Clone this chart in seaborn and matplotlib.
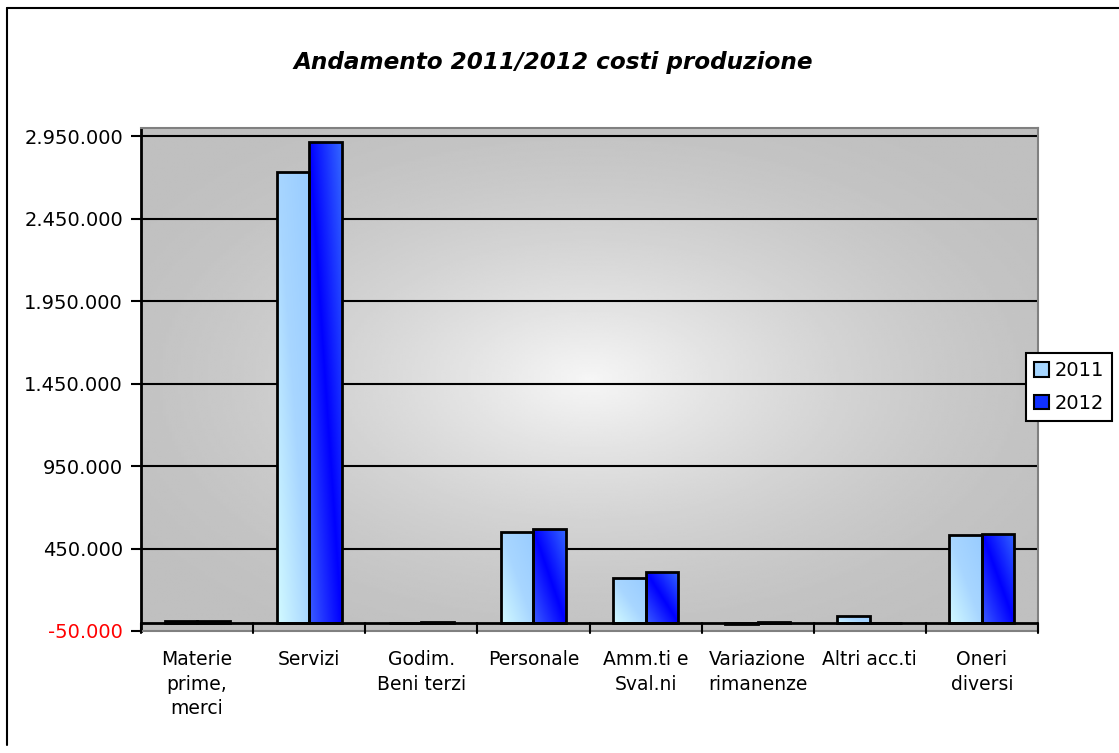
import numpy as np
import pandas as pd
import matplotlib
matplotlib.use("Agg")
import matplotlib.pyplot as plt
import seaborn as sns
from matplotlib.patches import Patch
from matplotlib.lines import Line2D
from matplotlib.colors import LinearSegmentedColormap

# --- data -------------------------------------------------------------
categorie = ["Materie\nprime,\nmerci", "Servizi", "Godim.\nBeni terzi", "Personale",
             "Amm.ti e\nSval.ni", "Variazione\nrimanenze", "Altri acc.ti", "Oneri\ndiversi"]
anni = ["2011", "2012"]
costi_2011 = [12000, 2734000, 0, 549000, 269000, -8000, 41000, 532000]
costi_2012 = [12000, 2915000, 5000, 567000, 309000, 3000, 0, 540000]
tick_valori = [-50000, 450000, 950000, 1450000, 1950000, 2450000, 2950000]
titolo = "Andamento 2011/2012 costi produzione"

df = pd.DataFrame({
    "categoria": categorie * 2,
    "anno": [anni[0]] * len(categorie) + [anni[1]] * len(categorie),
    "valore": costi_2011 + costi_2012,
})

sns.set_theme(style="white")
plt.rcParams["font.family"] = ["DejaVu Sans"]
plt.rcParams.update({"text.color": "black", "xtick.labelcolor": "black",
                     "ytick.labelcolor": "black", "xtick.color": "black",
                     "ytick.color": "black"})

W, H = 1119, 753
fig = plt.figure(figsize=(W / 100, H / 100), dpi=100)
ax = fig.add_axes([141 / W, 122 / H, 897 / W, 503 / H])

colori = {"2011": "#a6d6ff", "2012": "#1030ff"}
sns.barplot(data=df, x="categoria", y="valore", hue="anno", order=categorie,
            hue_order=anni, palette=colori, width=0.58, gap=0, errorbar=None,
            edgecolor="black", linewidth=2, legend=False, ax=ax, zorder=2)

# plot-area background: grey with a soft light centre
ny, nx = 300, 300
yy, xx = np.mgrid[0:1:ny * 1j, 0:1:nx * 1j]
r = np.clip(np.sqrt(((xx - 0.5) / 0.6) ** 2 + ((yy - 0.5) / 0.6) ** 2), 0, 1)
sfondo = 0.753 + (0.965 - 0.753) * (1 - r) ** 1.6
ax.imshow(sfondo, cmap="gray", vmin=0, vmax=1, extent=[0, 1, 0, 1],
          transform=ax.transAxes, aspect="auto", zorder=0, interpolation="bilinear")

# diagonal gradient fill inside each bar
cmap_2011 = LinearSegmentedColormap.from_list("c2011", ["#d2faff", "#a8d6ff", "#99ccff"])
cmap_2012 = LinearSegmentedColormap.from_list("c2012", ["#3a5cff", "#0000ff", "#3366ff"])
gy, gx = np.mgrid[0:1:80j, 0:1:40j]
grad = np.clip((gx - gy + 1) / 2, 0, 1)
for p in list(ax.patches):
    x0, y0 = p.get_x(), p.get_y()
    w, h = p.get_width(), p.get_height()
    if h == 0:
        continue
    centro = x0 + w / 2
    cm = cmap_2011 if centro < round(centro) else cmap_2012
    img = ax.imshow(grad, cmap=cm, vmin=0, vmax=1,
                    extent=[x0, x0 + w, min(y0, y0 + h), max(y0, y0 + h)],
                    aspect="auto", zorder=2, interpolation="bilinear")
    img.set_clip_path(p)
    p.set_facecolor("none")
    p.set_zorder(2.5)

ax.set_xlim(-0.5, len(categorie) - 0.5)
ax.set_ylim(-50000, 3000000)

# gridlines and category axis at zero
ax.hlines(tick_valori[1:], -0.5, len(categorie) - 0.5, colors="black", linewidth=1.5, zorder=1)
ax.axhline(0, color="black", linewidth=2, zorder=3)
for b in np.arange(-0.5, len(categorie), 1.0):
    ax.plot([b, b], [0, -62000], color="black", linewidth=1.5, clip_on=False, zorder=3)

# y axis
etichette = [f"{v:,}".replace(",", ".") for v in tick_valori]
ax.set_yticks(tick_valori, labels=etichette)
for lbl, v in zip(ax.get_yticklabels(), tick_valori):
    lbl.set_color("#ff0000" if v < 0 else "black")
ax.tick_params(axis="y", left=True, length=7, width=1.5, color="black",
               direction="out", pad=6, labelsize=14)
ax.tick_params(axis="x", bottom=False, length=0, pad=14, labelsize=13.5)
for lbl in ax.get_xticklabels():
    lbl.set_linespacing(1.35)
ax.set_xlabel("")
ax.set_ylabel("")

for side in ["top", "right", "bottom"]:
    ax.spines[side].set_color("#808080")
    ax.spines[side].set_linewidth(1.5)
ax.spines["left"].set_color("black")
ax.spines["left"].set_linewidth(2)

# legend
handles = [Patch(facecolor=colori[a], edgecolor="black", linewidth=1.5) for a in anni]
leg = fig.legend(handles, anni, loc="upper left", bbox_to_anchor=(1026 / W, 1 - 353 / H),
                 bbox_transform=fig.transFigure, frameon=True, fancybox=False,
                 edgecolor="black", framealpha=1, fontsize=14, handlelength=0.75,
                 handleheight=0.75, handletextpad=0.3, borderpad=0.42, labelspacing=0.7,
                 borderaxespad=0)
leg.get_frame().set_linewidth(1.5)

# title
fig.text(553 / W, 1 - 62 / H, titolo, ha="center", va="center", fontsize=16.7,
         fontweight="bold", fontstyle="italic", color="black")

# outer chart frame
fig.add_artist(Line2D([7 / W, 7 / W], [1 - 745 / H, 1 - 8 / H], color="black", linewidth=1.5))
fig.add_artist(Line2D([7 / W, 1], [1 - 8 / H, 1 - 8 / H], color="black", linewidth=1.5))

fig.savefig("out.png", dpi=100)
